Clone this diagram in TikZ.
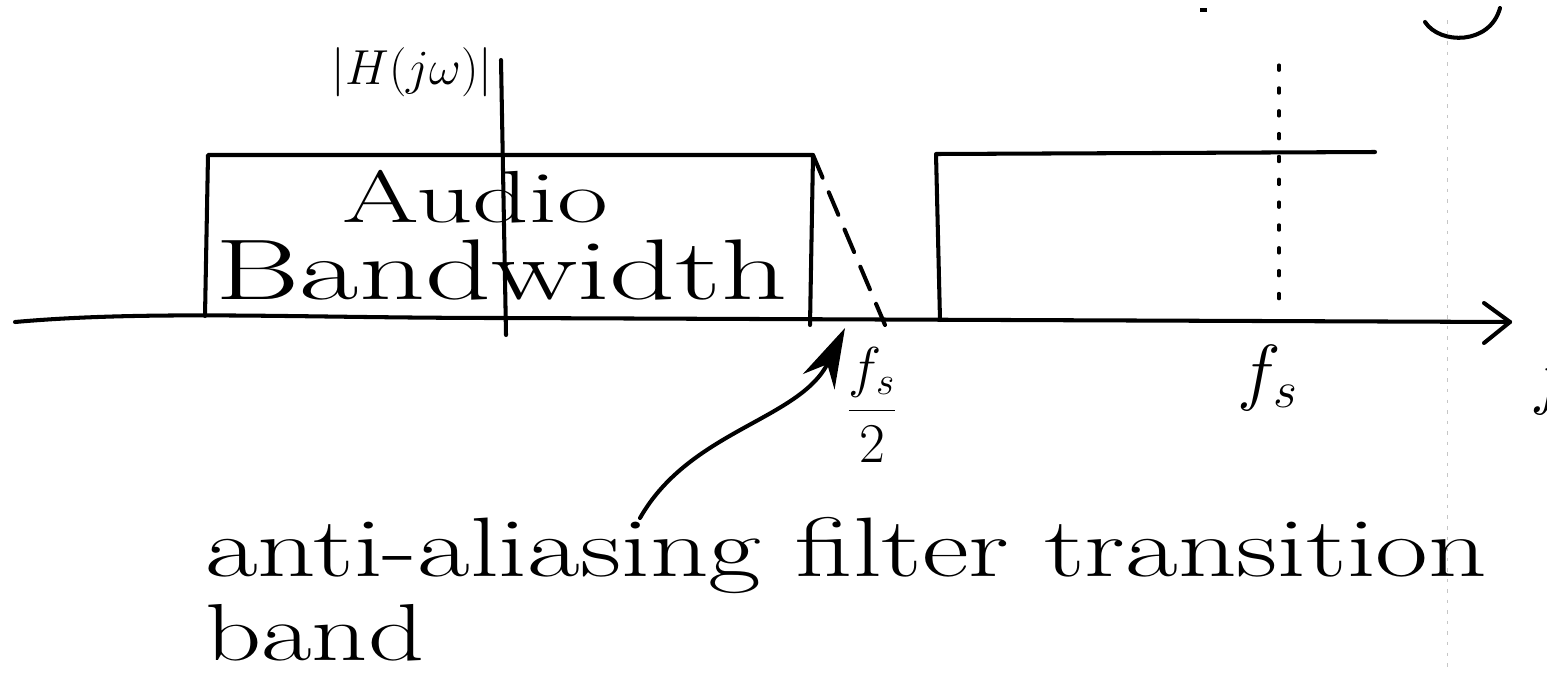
\RequirePackage{fix-cm}
\documentclass[tikz,border=0pt]{standalone}
\usetikzlibrary{arrows.meta}
\begin{document}
\begin{tikzpicture}[x=0.02cm,y=-0.02cm,
  ink/.style={line width=2.3pt,line cap=round,line join=round},
  dashline/.style={ink,dash pattern=on 14pt off 9pt},
  dotline/.style={line width=1.8pt,dash pattern=on 3pt off 10pt,line cap=round},
  hand/.style={inner sep=0pt,font=\fontsize{#1}{#1}\selectfont},
  faint/.style={gray!45,line width=0.5pt,dash pattern=on 2pt off 4pt}]
\useasboundingbox (0,0) rectangle (1547,673);
% axes
\coordinate (axL) at (15,322);
\coordinate (axR) at (1510,322);
\draw[ink] (axL) .. controls (150,310) and (300,318) .. (505,318) -- (axR);
\draw[ink] (1484,303) -- (axR) -- (1484,343);
\coordinate (vT) at (501,60);
\coordinate (vB) at (506,335);
\draw[ink] (vT) -- (vB);
\node[hand=28pt] (H) at (412,72) {$|H(j\omega)|$};
% passband rectangle
\coordinate (a1) at (205,316);
\coordinate (a2) at (208,155);
\coordinate (a3) at (813,155);
\coordinate (a4) at (810,325);
\draw[ink] (a1) -- (a2) -- (a3) -- (a4);
\coordinate (d1) at (885,325);
\draw[dashline] (a3) -- (d1);
% image rectangle
\coordinate (b1) at (940,320);
\coordinate (b2) at (936,154);
\coordinate (b3) at (1375,152);
\draw[ink] (b1) -- (b2) -- (b3);
% fs dotted
\coordinate (s1) at (1279,65);
\coordinate (s2) at (1279,315);
\draw[dotline] (s1) -- (s2);
% texts
\node[hand=42pt,anchor=base west] (aud) at (342,222) {\scalebox{1.5}[1]{Audio}};
\node[hand=49pt,anchor=base west] (bw) at (215,299) {\scalebox{1.5}[1]{Bandwidth}};
\node[hand=32pt] (fs2) at (872,405) {$\displaystyle\frac{f_s}{2}$};
\node[hand=42pt] (fs) at (1268,378) {$f_s$};
\node[hand=42pt,anchor=west] (f) at (1530,382) {$f$};
\node[hand=48pt,anchor=base west] (note) at (205,576) {\scalebox{1.36}[1]{anti-aliasing filter transition}};
\node[hand=46pt,anchor=base west] (band) at (205,660) {\scalebox{1.36}[1]{band}};
% arrow
\coordinate (tip) at (845,328);
\coordinate (tail) at (640,518);
\draw[ink,-{Stealth[length=34pt,width=20pt]}] (tail) .. controls (690,430) and (800,420) .. (tip);
% top-right marks
\draw[ink] (1425,22) .. controls (1440,45) and (1490,45) .. (1500,8);
\draw[line width=2pt] (1200,10) -- (1207,10);
\draw[faint] (1447,20) -- (1447,673);
\end{tikzpicture}
\end{document}
